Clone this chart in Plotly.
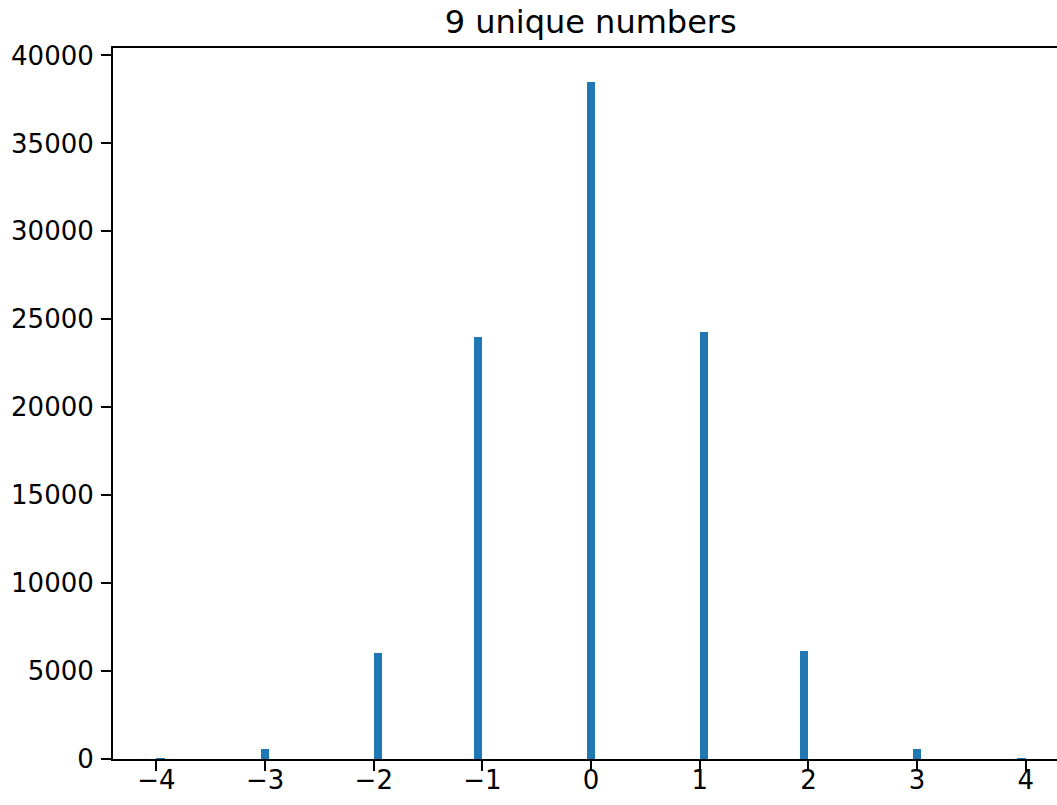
import numpy as np
import plotly.graph_objects as go

# Histogram of 100k rounded draws: 9 distinct integer values
values = [-4, -3, -2, -1, 0, 1, 2, 3, 4]
counts = [10, 570, 6050, 23980, 38500, 24300, 6160, 570, 10]
# left edge of the 0.08-wide bin each value falls into (100 bins over [-4, 4])
bin_left = [-4.0, -3.04, -2.0, -1.08, -0.04, 1.0, 1.92, 2.96, 3.92]
bin_width = 8 / 100

x_tick_vals = [-4, -3, -2, -1, 0, 1, 2, 3, 4]
x_tick_text = ["\u22124", "\u22123", "\u22122", "\u22121", "0", "1", "2", "3", "4"]
y_tick_vals = [0, 5000, 10000, 15000, 20000, 25000, 30000, 35000, 40000]
y_tick_text = [str(v) for v in y_tick_vals]

W, H = 1057, 805
font = "DejaVu Sans"

fig = go.Figure(
    go.Bar(
        x=bin_left,
        y=counts,
        width=bin_width,
        offset=0,
        marker=dict(color="#1f77b4", line=dict(width=0)),
        hoverinfo="x+y",
    )
)

fig.update_layout(
    width=W,
    height=H,
    margin=dict(l=113, r=0, t=48, b=46, pad=0),
    paper_bgcolor="white",
    plot_bgcolor="white",
    showlegend=False,
    bargap=0,
    font=dict(family=font, size=26, color="black"),
    title=dict(
        text="9 unique numbers",
        font=dict(family=font, size=32, color="black"),
        xref="paper",
        x=0.506,
        xanchor="center",
        yref="container",
        y=1 - 22 / H,
        yanchor="middle",
    ),
)

axis_style = dict(
    ticks="outside",
    ticklen=10,
    tickwidth=2,
    tickcolor="black",
    showline=True,
    linewidth=2,
    linecolor="black",
    showgrid=False,
    zeroline=False,
    automargin=False,
)

fig.update_xaxes(
    range=[-4.4, -4.4 + 944 / 108.66],
    tickvals=x_tick_vals,
    ticktext=x_tick_text,
    mirror=True,
    ticklabelstandoff=-13,
    **axis_style,
)

fig.update_yaxes(
    range=[0, max(counts) * 1.05],
    tickvals=y_tick_vals,
    ticktext=y_tick_text,
    ticklabelstandoff=2,
    **axis_style,
)

fig.write_html("out.html")
